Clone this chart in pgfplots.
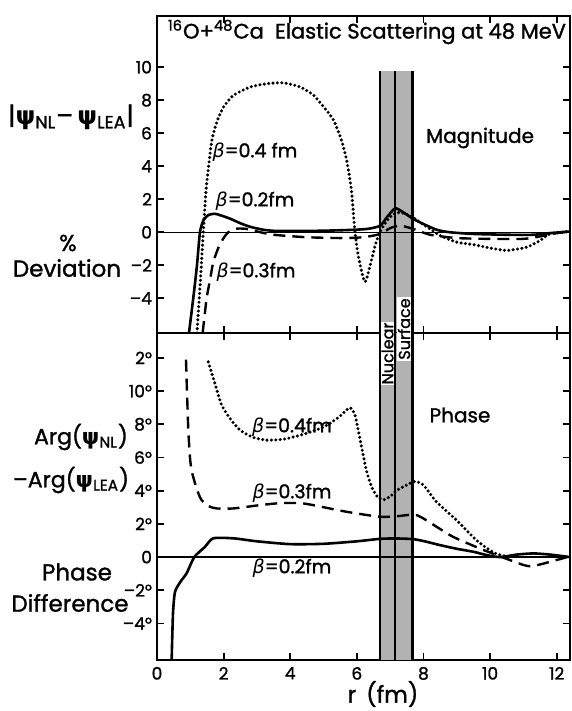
\documentclass[border=0pt]{standalone}
\usepackage{pgfplots}
\pgfplotsset{compat=1.18}
\usepackage{fontspec}
\setmainfont{Poppins}[BoldFont=Poppins, BoldFeatures={FakeBold=1.3}]
\newfontfamily\gr{DejaVu Sans}
\newcommand{\bet}{{\gr\mdseries\itshape β}}
\newcommand{\psy}{{\gr ψ}}
\newcommand{\fs}[1]{\fontsize{#1}{#1}\selectfont\bfseries}

\pgfplotstableread{
x y
0.96 -6.1
1.1 -3.8
1.2 -2.0
1.29 0
1.4 0.75
1.55 1.05
1.74 1.12
1.95 1.0
2.2 0.82
2.5 0.55
2.8 0.33
3.2 0.15
3.6 0.08
4.5 0.08
5.5 0.12
6.3 0.2
6.7 0.4
6.9 0.9
7.15 1.45
7.4 1.2
7.7 0.8
8.0 0.5
8.4 0.15
8.8 0.0
9.5 -0.1
10.5 -0.15
11.3 -0.15
11.8 -0.05
12.4 0.05
}\magA

\pgfplotstableread{
x y
1.2 -6.1
1.3 -3
1.39 0
1.47 2.5
1.55 4.0
1.65 5.6
1.8 6.7
2.0 7.6
2.3 8.3
2.8 8.8
3.3 9.0
3.8 9.05
4.3 8.8
4.7 8.3
5.0 7.6
5.3 6.8
5.55 5.5
5.7 4.3
5.84 2.5
5.94 0.1
6.05 -1.5
6.24 -3.0
6.4 -2.0
6.55 -0.8
6.69 0
6.9 0.7
7.1 1.1
7.3 1.2
7.6 1.0
7.9 0.6
8.2 0.2
8.5 -0.2
9.0 -0.6
9.5 -0.75
10.0 -0.95
10.5 -1.1
11.1 -0.9
11.5 -0.5
11.8 -0.1
12.4 0.05
}\magC

\pgfplotstableread{
x y
1.37 -6.1
1.49 -4
1.6 -2.8
1.69 -1.8
1.85 -0.9
2.0 -0.35
2.14 0
2.4 0.22
2.7 0.2
3.0 0.05
3.5 -0.15
4.5 -0.3
5.5 -0.35
6.2 -0.3
6.7 -0.1
7.0 0.25
7.3 0.4
7.7 0.2
8.2 -0.15
9.0 -0.35
10 -0.4
11.0 -0.4
11.5 -0.25
12.0 -0.05
12.4 0.05
}\magB

\pgfplotstableread{
x y
0.44 -6.2
0.48 -3.4
0.54 -2.1
0.7 -1.5
0.89 -0.97
1.12 0
1.44 0.62
1.69 1.13
2.29 1.13
3.0 0.95
4.0 0.78
5.0 0.8
6.0 0.95
6.7 1.1
7.2 1.12
7.7 1.08
8.1 0.92
8.5 0.72
9.0 0.5
9.5 0.32
9.9 0.12
10.3 0.0
10.8 0.15
11.3 0.22
11.8 0.15
12.4 0
}\phA

\pgfplotstableread{
x y
0.87 11.9
0.9 10
0.94 7.65
0.99 6
1.04 5.2
1.14 4.46
1.25 3.8
1.34 3.43
1.55 3.07
1.79 2.93
2.29 2.93
3.09 3.13
3.7 3.25
4.3 3.25
4.69 3.13
5.69 2.73
6.69 2.43
7.19 2.46
7.79 2.53
8.39 1.83
8.89 1.22
9.69 0.52
10.49 -0.1
11.19 -0.55
11.99 -0.18
12.4 0.05
}\phB

\pgfplotstableread{
x y
1.54 11.76
1.64 11.1
1.74 10.46
1.94 9.16
2.19 8.36
2.49 7.65
2.89 7.21
3.29 7.05
3.8 7.1
4.4 7.4
4.9 7.75
5.19 8.05
5.5 8.5
5.79 9.0
5.95 8.5
6.14 6.65
6.29 5.2
6.45 4.2
6.63 3.6
6.8 3.45
7.0 3.65
7.19 4.0
7.5 4.35
7.75 4.55
8.0 4.34
8.39 3.33
8.99 2.23
9.6 1.0
10.14 0.24
10.59 0
}\phC

\pgfplotsset{
  panel/.style={
    scale only axis, width=206.5pt, xmin=0, xmax=12.4,
    xtick={0,2,4,6,8,10,12},
    tick align=inside, major tick length=3.5pt,
    every tick/.style={line width=0.9pt, black},
    axis line style={line width=1.1pt},
    ticklabel style={font=\fs{8.5}},
    /pgf/number format/assume math mode=true,
    yticklabel style={xshift=1pt},
    anchor=south west,
  },
  sol/.style={black, line width=1.3pt, smooth, tension=0.4},
  dsh/.style={black, line width=1.2pt, dash pattern=on 6pt off 3.5pt, smooth, tension=0.4},
  dot/.style={black, line width=1.7pt, dash pattern=on 0pt off 2.2pt, line cap=round, smooth, tension=0.4},
}

\begin{document}
\begin{tikzpicture}
\useasboundingbox (0,0) rectangle (286pt,355.5pt);

% ---------- top panel: magnitude ----------
\begin{axis}[panel, at={(78.5pt,189pt)}, height=158.5pt,
  ymin=-6.1, ymax=13.1, ytick={-4,-2,0,2,4,6,8,10},
  yticklabels={–4,–2,0,2,4,6,8,10}, xticklabels={}]
  \addplot[draw=none, fill=black!30] coordinates {(6.69,-6.1) (6.69,9.76) (7.67,9.76) (7.67,-6.1)} -- cycle;
  \addplot[black, line width=1.1pt] coordinates {(6.69,-6.1) (6.69,9.76)};
  \addplot[black, line width=1.1pt] coordinates {(7.14,-6.1) (7.14,9.76)};
  \addplot[black, line width=1.1pt] coordinates {(7.67,-6.1) (7.67,9.76)};
  \addplot[black, line width=0.7pt] coordinates {(0,0) (12.4,0)};
  \addplot[sol] table {\magA};
  \addplot[dsh] table {\magB};
  \addplot[dot] table {\magC};
\end{axis}

% ---------- bottom panel: phase ----------
\begin{axis}[panel, at={(78.5pt,25.5pt)}, height=163.5pt,
  ymin=-6.2, ymax=13.5, ytick={-4,-2,0,2,4,6,8,10,12},
  yticklabels={–4°,–2°,0,2°,4°,6°,8°,10°,2°},
  xticklabels={0,2,4,6,8,10,12}]
  \addplot[draw=none, fill=black!30] coordinates {(6.69,-6.2) (6.69,13.5) (7.67,13.5) (7.67,-6.2)} -- cycle;
  \addplot[black, line width=1.1pt] coordinates {(6.69,-6.2) (6.69,13.5)};
  \addplot[black, line width=1.1pt] coordinates {(7.14,-6.2) (7.14,13.5)};
  \addplot[black, line width=1.1pt] coordinates {(7.67,-6.2) (7.67,13.5)};
  \addplot[black, line width=0.7pt] coordinates {(0,0) (12.4,0)};
  \addplot[sol] table {\phA};
  \addplot[dsh] table {\phB};
  \addplot[dot] table {\phC};
\end{axis}

% ---------- texts ----------
\node[font=\fs{10.5}] at (183.5pt,339.5pt) {\textsuperscript{16}O+\textsuperscript{48}Ca\ \ Elastic Scattering at 48 MeV};
\node[font=\fs{12.5}] at (35.5pt,297pt) {|\psy\textsubscript{NL}–\,\psy\textsubscript{LEA}|};
\node[font=\fs{11.5}] at (34pt,234pt) {\%};
\node[font=\fs{11.5}] at (33.5pt,221.5pt) {Deviation};
\node[font=\fs{11}] at (40.5pt,137pt) {Arg(\psy\textsubscript{NL})};
\node[font=\fs{11}] at (35.5pt,115.5pt) {–Arg(\psy\textsubscript{LEA})};
\node[font=\fs{11.5}] at (38.5pt,69.5pt) {Phase};
\node[font=\fs{11.5}] at (35pt,54pt) {Difference};
\node[font=\fs{10}] at (240pt,286.5pt) {Magnitude};
\node[font=\fs{10}] at (230pt,148pt) {Phase};
\node[font=\fs{9.5}] at (127.5pt,279.5pt) {\bet=0.4 fm};
\node[font=\fs{9.5}] at (127.5pt,255pt) {\bet=0.2fm};
\node[font=\fs{9.5}] at (128pt,219.5pt) {\bet=0.3fm};
\node[font=\fs{9.5}] at (146pt,142pt) {\bet=0.4fm};
\node[font=\fs{9.5}] at (146pt,109pt) {\bet=0.3fm};
\node[font=\fs{9.5}] at (146pt,71.5pt) {\bet=0.2fm};
\node[font=\fs{11.5}] at (191.5pt,8.5pt) {r\ \,(fm)};
\node[font=\fs{8}, rotate=90, fill=white, inner sep=0.5pt] at (193.75pt,178.75pt) {Nuclear};
\node[font=\fs{8}, rotate=90, fill=white, inner sep=0.5pt] at (202pt,191pt) {Surface};
\end{tikzpicture}
\end{document}
